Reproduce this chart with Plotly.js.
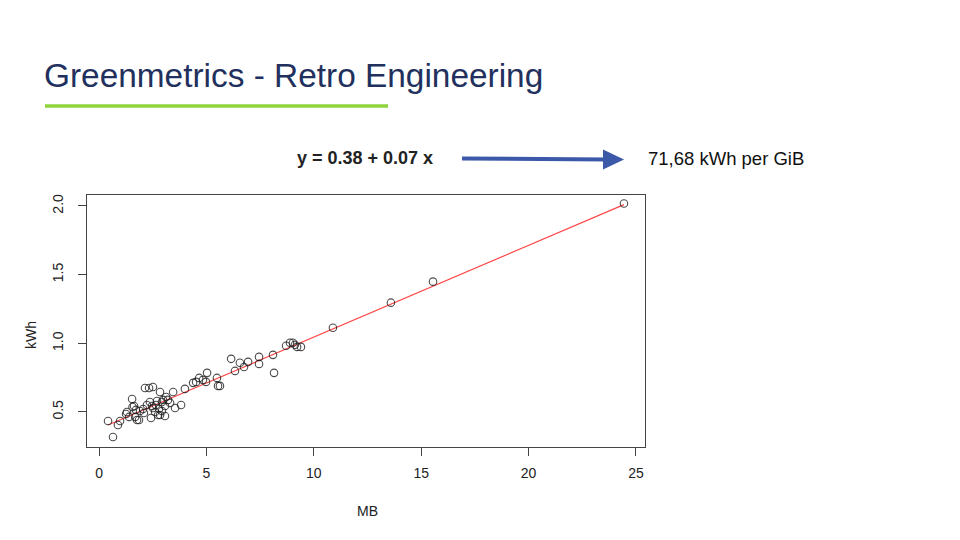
<!DOCTYPE html>
<html>
<head>
<meta charset="utf-8">
<script src="https://cdn.plot.ly/plotly-3.0.1.min.js"></script>
<style>
  html, body { margin: 0; padding: 0; background: #ffffff; }
  #chart { width: 960px; height: 540px; }
</style>
</head>
<body>
<div id="chart"></div>
<script>
// ---- Data ----
const mbValues = [
  0.42, 0.65, 0.88, 0.98, 1.26, 1.40, 1.54, 1.56, 1.63, 1.72,
  1.77, 1.86, 1.91, 2.05, 2.14, 2.33, 2.51, 2.23, 2.37, 2.42,
  2.51, 2.65, 2.70, 2.75, 2.84, 2.84, 2.93, 2.98, 3.12, 3.31,
  3.45, 3.54, 3.82, 4.00, 4.38, 4.52, 4.66, 4.84, 4.98, 5.03,
  5.49, 5.54, 5.63, 6.15, 6.33, 6.56, 6.75, 6.94, 7.45, 7.45,
  8.10, 8.15, 8.71, 8.89, 9.03, 9.12, 9.22, 9.40, 10.89, 13.59,
  15.55, 24.44, 2.09, 2.47, 2.61, 2.79, 2.93, 3.07, 3.21, 3.07,
  1.30, 1.68
];
const kwhValues = [
  0.434, 0.318, 0.405, 0.434, 0.485, 0.464, 0.595, 0.536, 0.544, 0.515,
  0.442, 0.442, 0.507, 0.522, 0.675, 0.675, 0.682, 0.551, 0.573, 0.456,
  0.529, 0.551, 0.580, 0.478, 0.478, 0.646, 0.573, 0.588, 0.609, 0.566,
  0.646, 0.529, 0.551, 0.668, 0.712, 0.719, 0.748, 0.734, 0.719, 0.785,
  0.748, 0.690, 0.690, 0.887, 0.799, 0.858, 0.828, 0.865, 0.901, 0.850,
  0.916, 0.785, 0.982, 1.004, 1.004, 0.989, 0.974, 0.974, 1.113, 1.296,
  1.449, 2.018, 0.493, 0.544, 0.500, 0.522, 0.507, 0.544, 0.588, 0.471,
  0.500, 0.464
];
// fitted regression line endpoints (as drawn in the reference)
const fitMB  = [0.42, 24.44];
const fitKWh = [0.405, 2.010];

const xTickVals = [0, 5, 10, 15, 20, 25];
const yTickVals = [0.5, 1.0, 1.5, 2.0];
const yTickText = ['0.5', '1.0', '1.5', '2.0'];

const slideTitle = 'Greenmetrics - Retro Engineering';
const equationText = 'y = 0.38 + 0.07 x';
const resultText = '71,68 kWh per GiB';
const xTitle = 'MB';
const yTitle = 'kWh';

// ---- Layout geometry (pixels) ----
const W = 960, H = 540;
const M = { l: 87, r: 315, t: 195, b: 93 };
const PW = W - M.l - M.r, PH = H - M.t - M.b;
const px = x => (x - M.l) / PW;          // pixel x -> paper
const py = y => (H - M.b - y) / PH;      // pixel y -> paper

const font = 'Liberation Sans, Arial, Helvetica, sans-serif';

const traces = [
  {
    x: fitMB, y: fitKWh, type: 'scatter', mode: 'lines',
    line: { color: 'rgb(255,70,70)', width: 1.2 },
    hoverinfo: 'skip', showlegend: false
  },
  {
    x: mbValues, y: kwhValues, type: 'scatter', mode: 'markers',
    marker: { symbol: 'circle-open', size: 7.5, color: 'rgba(30,30,30,0.8)', line: { width: 1.1 } },
    showlegend: false
  }
];

const layout = {
  width: W, height: H,
  margin: M,
  paper_bgcolor: '#ffffff',
  plot_bgcolor: '#ffffff',
  showlegend: false,
  font: { family: font, color: '#222' },
  xaxis: {
    range: [-0.56, 25.42],
    tickvals: xTickVals,
    ticks: 'outside', ticklen: 8, tickwidth: 1, tickcolor: '#444',
    showline: true, mirror: true, linecolor: '#444', linewidth: 1,
    showgrid: false, zeroline: false,
    tickfont: { family: font, size: 14, color: '#222' },
    ticklabelstandoff: 5
  },
  yaxis: {
    range: [0.245, 2.080],
    tickvals: yTickVals, ticktext: yTickText,
    tickangle: -90,
    ticks: 'outside', ticklen: 8, tickwidth: 1, tickcolor: '#444',
    showline: true, mirror: true, linecolor: '#444', linewidth: 1,
    showgrid: false, zeroline: false,
    tickfont: { family: font, size: 14, color: '#222' },
    ticklabelstandoff: 9
  },
  shapes: [
    // green underline below title
    { type: 'line', xref: 'paper', yref: 'paper',
      x0: px(45), x1: px(388), y0: py(106), y1: py(106),
      line: { color: '#8fd43c', width: 3.5 } },
    // arrow shaft
    { type: 'line', xref: 'paper', yref: 'paper',
      x0: px(462), x1: px(607), y0: py(158.5), y1: py(159.5),
      line: { color: '#3c58a8', width: 4 } },
    // arrow head
    { type: 'path', xref: 'paper', yref: 'paper',
      path: `M ${px(603)} ${py(149.5)} L ${px(624)} ${py(159.5)} L ${px(603)} ${py(169.5)} Z`,
      fillcolor: '#3c58a8', line: { width: 0 } }
  ],
  annotations: [
    { text: slideTitle, xref: 'paper', yref: 'paper',
      x: px(42), y: py(76), xanchor: 'left', yanchor: 'middle', showarrow: false,
      font: { family: font, size: 33.4, color: '#22305e' } },
    { text: '<b>' + equationText + '</b>', xref: 'paper', yref: 'paper',
      x: px(295), y: py(158), xanchor: 'left', yanchor: 'middle', showarrow: false,
      font: { family: font, size: 18, color: '#222' } },
    { text: resultText, xref: 'paper', yref: 'paper',
      x: px(646), y: py(158), xanchor: 'left', yanchor: 'middle', showarrow: false,
      font: { family: font, size: 18.5, color: '#111' } },
    { text: xTitle, xref: 'paper', yref: 'paper',
      x: px(367), y: py(511), xanchor: 'center', yanchor: 'middle', showarrow: false,
      font: { family: font, size: 14, color: '#222' } },
    { text: yTitle, xref: 'paper', yref: 'paper',
      x: px(31), y: py(335), xanchor: 'center', yanchor: 'middle', showarrow: false,
      textangle: -90,
      font: { family: font, size: 14, color: '#222' } }
  ]
};

Plotly.newPlot('chart', traces, layout, { displayModeBar: false, staticPlot: true });
</script>
</body>
</html>
